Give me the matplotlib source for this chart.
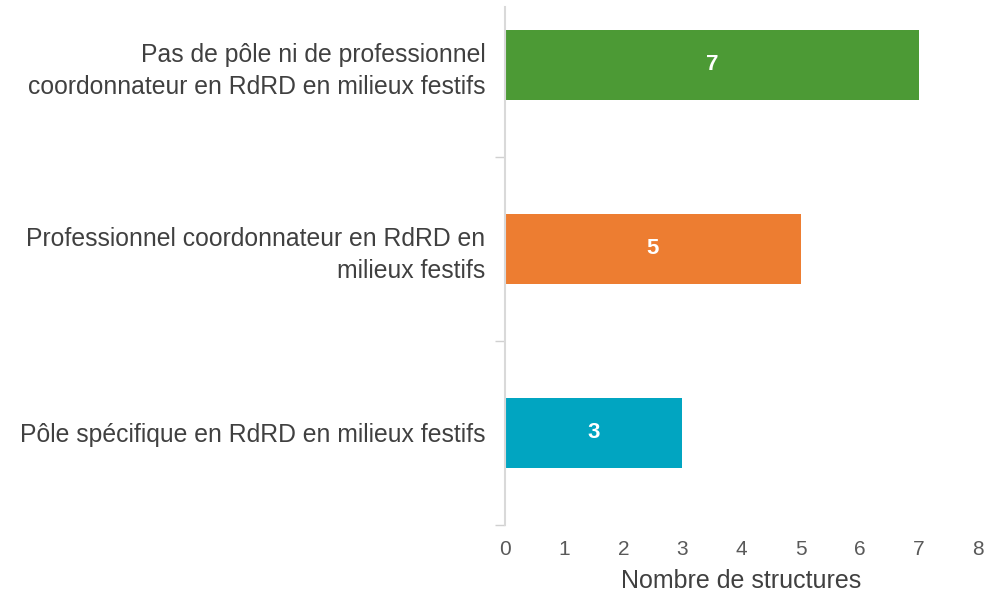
import matplotlib
matplotlib.use("Agg")
import matplotlib.pyplot as plt
from matplotlib.ticker import FixedLocator

categories = [
    "Pas de pôle ni de professionnel\ncoordonnateur en RdRD en milieux festifs",
    "Professionnel coordonnateur en RdRD en\nmilieux festifs",
    "Pôle spécifique en RdRD en milieux festifs",
]
values = [7, 5, 3]
colors = ["#4C9A35", "#ED7D31", "#01A5C1"]
xticks = [0, 1, 2, 3, 4, 5, 6, 7, 8]
xlabel = "Nombre de structures"

plt.rcParams['font.family'] = ['Liberation Sans', 'DejaVu Sans']

fig = plt.figure(figsize=(10.05, 5.94), dpi=100)
W, H = 1005, 594
x0, x1 = 505, 978
ytop, ybot = 7, 525
ax = fig.add_axes([x0 / W, (H - ybot) / H, (x1 - x0) / W, (ybot - ytop) / H])

ypos = list(range(len(categories)))
ax.barh(ypos, values, height=0.38, color=colors)
for y, v in zip(ypos, values):
    ax.text(v / 2, y, str(v), ha='center', va='center', color='white',
            fontsize=16, fontweight='bold')

ax.set_xlim(0, 8)
ax.set_ylim(2.5, -0.315)
ax.set_yticks(ypos)
ax.set_yticklabels(categories, fontsize=17.8, color='#404040', ha='right',
                   linespacing=1.38)
ax.tick_params(axis='y', length=0, pad=14)
ax.yaxis.set_minor_locator(FixedLocator([0.5, 1.5, 2.5]))
ax.tick_params(axis='y', which='minor', length=7, color='#d0d0d0', width=1)
ax.set_xticks(xticks)
ax.tick_params(axis='x', length=0, labelsize=15, labelcolor='#595959', pad=11)
ax.set_xlabel(xlabel, fontsize=18, color='#404040', labelpad=7)

for s in ['top', 'right', 'bottom']:
    ax.spines[s].set_visible(False)
ax.spines['left'].set_color('#d9d9d9')
ax.spines['left'].set_linewidth(1.5)

fig.savefig("out.png", dpi=100)
